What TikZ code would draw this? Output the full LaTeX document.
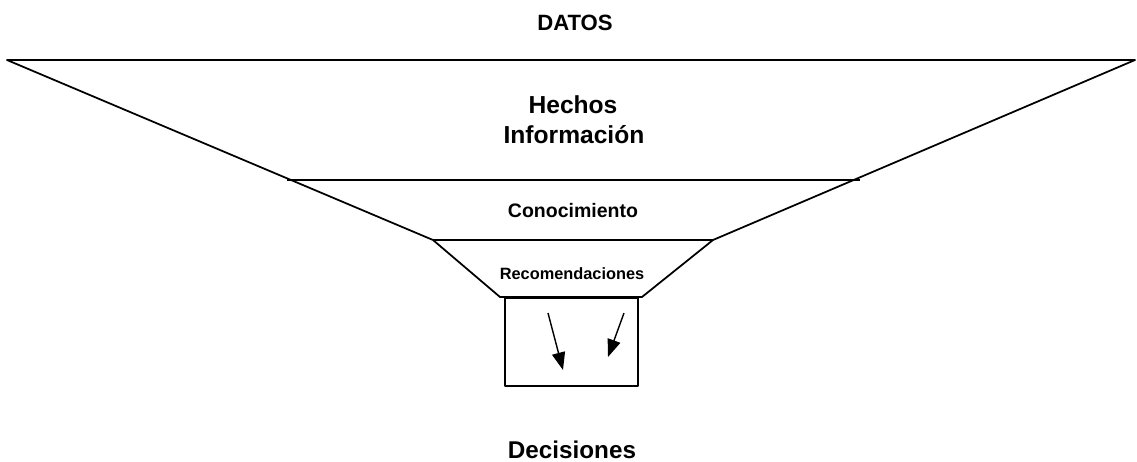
\documentclass[tikz,border=0pt]{standalone}
\usepackage{fontspec}
\setmainfont{Liberation Sans}
\usetikzlibrary{arrows.meta}
\tikzset{
  funnel/.style={line width=1pt, line join=round},
  lbl/.style={anchor=base, inner sep=0pt, font=\bfseries},
  flowarrow/.style={line width=0.8pt, -{Triangle[length=10pt,width=7.5pt]}}
}
\begin{document}
\begin{tikzpicture}[x=0.02cm, y=-0.02cm]
\useasboundingbox (0,0) rectangle (1137,461);
% funnel corners
\coordinate (tl) at (7,60);
\coordinate (tr) at (1135,60);
\coordinate (ml) at (287,180);
\coordinate (mr) at (860,180);
\coordinate (rl) at (433,240);
\coordinate (rr) at (713,240);
\coordinate (bl) at (500,297);
\coordinate (br) at (642,297);
% box
\coordinate (boxtl) at (505,298);
\coordinate (boxbr) at (638,386);
\draw[funnel] (tl) -- (tr) -- (rr) -- (br) -- (bl) -- (rl) -- cycle;
\draw[funnel] (ml) -- (mr);
\draw[funnel] (rl) -- (rr);
\draw[funnel] (boxtl) rectangle (boxbr);
% arrows
\coordinate (a1s) at (548,313);
\coordinate (a1e) at (563,370);
\coordinate (a2s) at (624,313);
\coordinate (a2e) at (608,357);
\draw[flowarrow] (a1s) -- (a1e);
\draw[flowarrow] (a2s) -- (a2e);
% labels
\node[lbl, font=\bfseries\fontsize{12.6}{14}\selectfont] (datos) at (575,30) {DATOS};
\node[lbl, font=\bfseries\fontsize{14}{16}\selectfont] (hechos) at (573,113) {Hechos};
\node[lbl, font=\bfseries\fontsize{14}{16}\selectfont] (info) at (574,143) {Información};
\node[lbl, font=\bfseries\fontsize{11.1}{13}\selectfont] (cono) at (573,217) {Conocimiento};
\node[lbl, font=\bfseries\fontsize{9.3}{11}\selectfont] (reco) at (572,279) {Recomendaciones};
\node[lbl, font=\bfseries\fontsize{13.8}{16}\selectfont] (deci) at (572,458) {Decisiones};
\end{tikzpicture}
\end{document}
